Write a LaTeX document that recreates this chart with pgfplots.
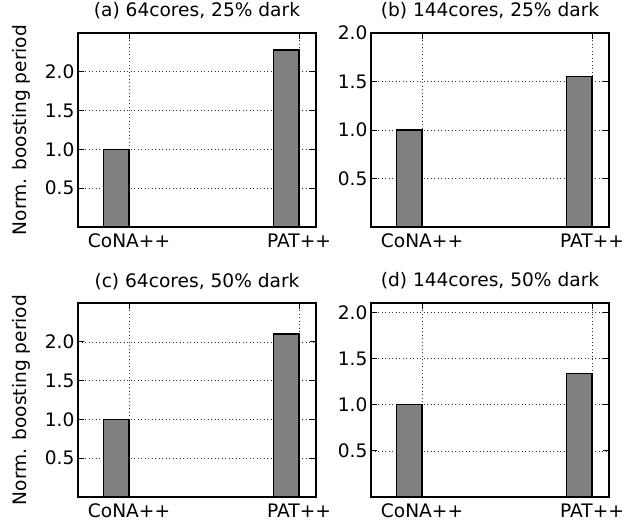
\documentclass[border=0pt]{standalone}
\usepackage{fontspec}
\setmainfont{DejaVu Sans}
\usepackage{pgfplots}
\pgfplotsset{compat=1.18}
\begin{document}
\begin{tikzpicture}
\useasboundingbox (0pt,0pt) rectangle (624pt,525pt);
\pgfplotsset{
  every axis/.append style={font=\fontsize{18.6}{21.5}\selectfont},
  myax/.style={
    scale only axis, width=238pt, height=194pt, anchor=south west,
    xmin=-0.3, xmax=1.1, ymin=0,
    xtick={0,1}, xticklabels={CoNA++,PAT++},
    ytick={0.5,1.0,1.5,2.0},
    yticklabel style={/pgf/number format/.cd,fixed,fixed zerofill,precision=1},
    /pgf/number format/assume math mode=true,
    grid=major,
    major grid style={black!80, line width=0.6pt, dash pattern=on 1pt off 2.5pt},
    tick align=inside, major tick length=6pt,
    tick style={black, line width=0.8pt},
    axis line style={line width=1.3pt},
    xticklabel style={anchor=base, yshift=-20.5pt},
    title style={at={(axis description cs:0.5,1)}, anchor=base, yshift=10pt},
  },
  mybar/.style={ybar, bar width=0.15, bar shift=-0.075, fill=gray, draw=black, line width=1.2pt},
  myylab/.style={ylabel={Norm. boosting period}, ylabel style={at={(axis description cs:-0.2395,0.5)}, anchor=center}},
}
\begin{axis}[myax, myylab, at={(78pt,298pt)}, ymax=2.5, title={(a) 64cores, 25\% dark}]
\addplot[mybar] coordinates {(0,1.0) (1,2.28)};
\end{axis}
\begin{axis}[myax, at={(371pt,298pt)}, ymax=2.0, title={(b) 144cores, 25\% dark}]
\addplot[mybar] coordinates {(0,1.0) (1,1.55)};
\end{axis}
\begin{axis}[myax, myylab, at={(78pt,28pt)}, ymax=2.5, title={(c) 64cores, 50\% dark}]
\addplot[mybar] coordinates {(0,1.0) (1,2.10)};
\end{axis}
\begin{axis}[myax, at={(371pt,28pt)}, ymax=2.1, title={(d) 144cores, 50\% dark}]
\addplot[mybar] coordinates {(0,1.0) (1,1.34)};
\end{axis}
\end{tikzpicture}
\end{document}
